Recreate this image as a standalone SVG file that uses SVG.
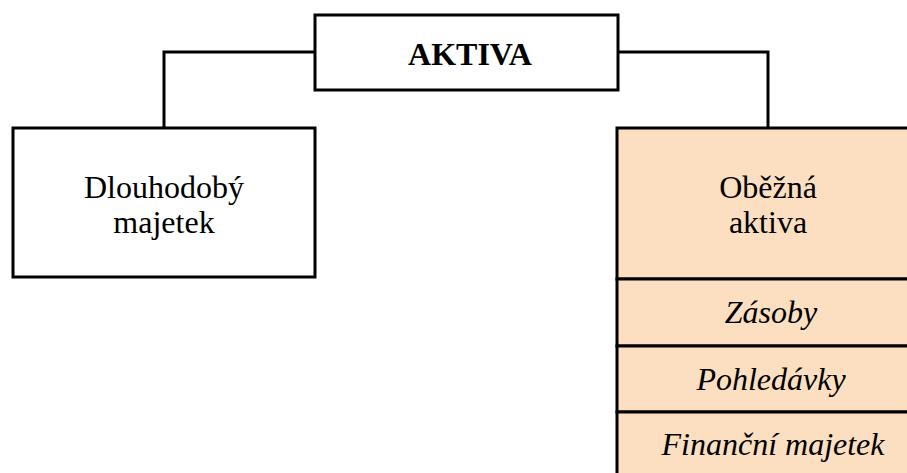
<svg xmlns="http://www.w3.org/2000/svg" width="907" height="473" viewBox="0 0 907 473">
<style>
.box{fill:#ffffff;stroke:#000;stroke-width:3}
.peach{fill:#FCDFC1;stroke:#000;stroke-width:3}
.conn{fill:none;stroke:#000;stroke-width:3}
.b{font-weight:bold;font-size:32px}
.r{font-size:32px}
.i{font-style:italic;font-size:32px}
</style>
<rect width="907" height="473" fill="#fff"/>
<g id="connectors">
<polyline class="conn" points="315,52 164,52 164,128"/>
<polyline class="conn" points="618,52 768,52 768,128"/>
</g>
<g font-family="Liberation Serif, Times New Roman, serif" text-anchor="middle" fill="#000">
<g id="aktiva">
<rect class="box" x="315" y="15" width="303" height="75"/>
<text class="b" x="470" y="65">AKTIVA</text>
</g>
<g id="dlouhodoby">
<rect class="box" x="13" y="128" width="302" height="149"/>
<text class="r" x="164" y="198">Dlouhodobý</text>
<text class="r" x="164" y="233">majetek</text>
</g>
<g id="obezna">
<rect class="peach" x="617" y="128" width="302" height="151"/>
<text class="r" x="768" y="198">Oběžná</text>
<text class="r" x="768" y="233">aktiva</text>
</g>
<g id="zasoby">
<rect class="peach" x="617" y="279" width="302" height="67"/>
<text class="i" x="771" y="323">Zásoby</text>
</g>
<g id="pohledavky">
<rect class="peach" x="617" y="346" width="302" height="66"/>
<text class="i" x="771" y="390">Pohledávky</text>
</g>
<g id="financni">
<rect class="peach" x="617" y="412" width="302" height="75"/>
<text class="i" x="773" y="455">Finanční majetek</text>
</g>
</g>
</svg>
